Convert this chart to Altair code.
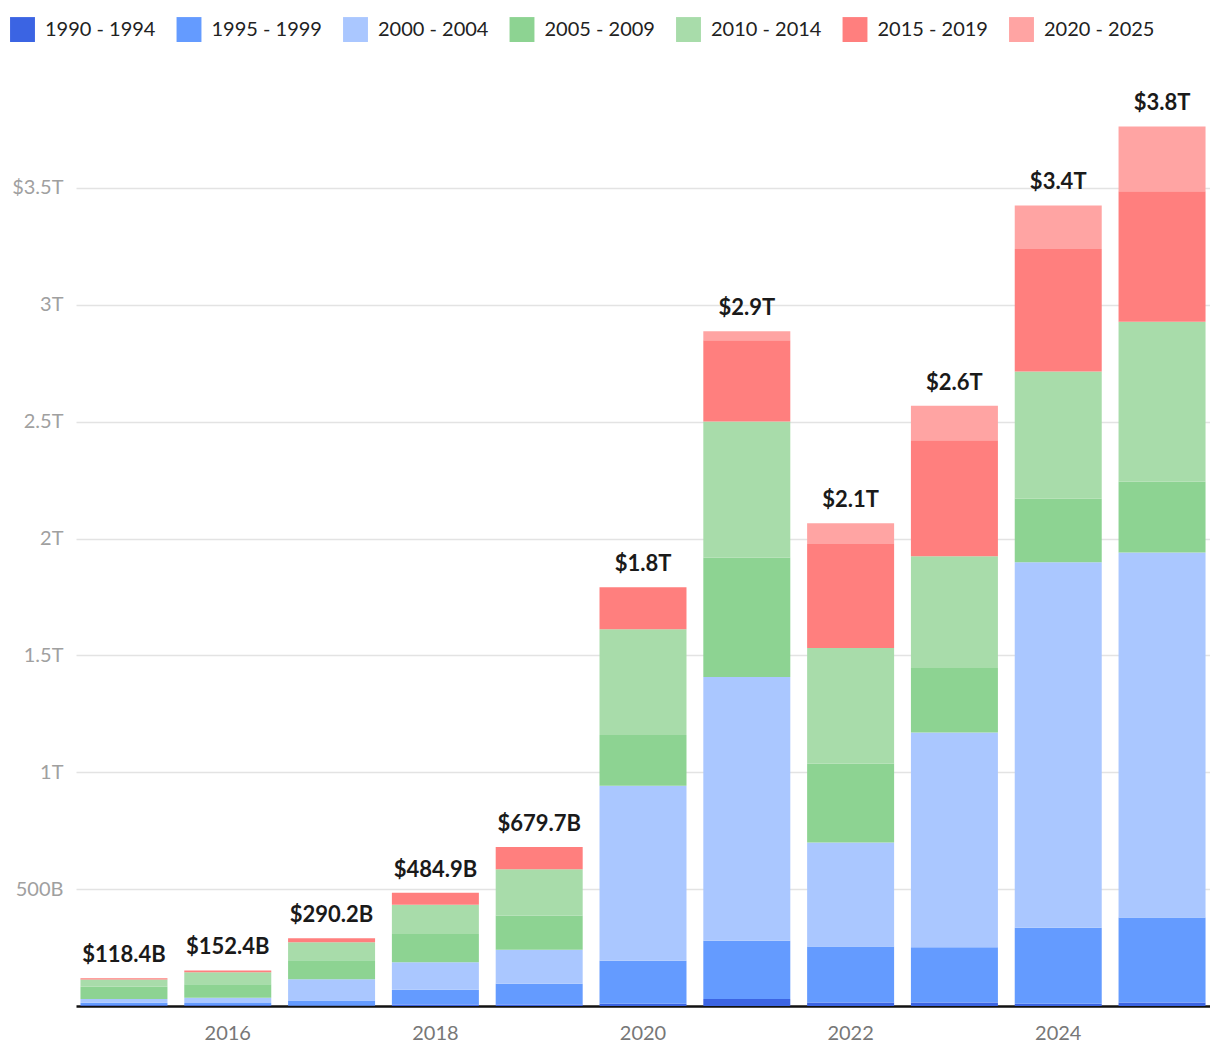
import altair as alt
import pandas as pd

years = [2015, 2016, 2017, 2018, 2019, 2020, 2021, 2022, 2023, 2024, 2025]
categories = ["1990 - 1994", "1995 - 1999", "2000 - 2004", "2005 - 2009",
              "2010 - 2014", "2015 - 2019", "2020 - 2025"]
colors = ["#3B64E3", "#649BFF", "#AAC7FF", "#8DD392", "#A8DCAA", "#FF7F7E", "#FFA4A3"]

# values in billions of dollars
s1990 = [3, 3, 2, 6, 6, 10, 30, 15, 15, 10, 15]
s1995 = [11, 10, 21, 64, 89, 184, 249, 240, 236, 325, 364]
s2000 = [16, 22, 91, 117, 146, 748, 1129, 444, 919, 1563, 1561]
s2005 = [52, 58, 82, 121, 146, 217, 511, 338, 276, 272, 304]
s2010 = [31, 51, 77, 125, 198, 453, 582, 495, 478, 544, 683]
s2015 = [5.4, 8.4, 17.2, 51.9, 94.7, 179, 347, 444, 496, 525, 559]
s2020 = [0, 0, 0, 0, 0, 0, 39, 89, 148, 186, 277]

series = [s1990, s1995, s2000, s2005, s2010, s2015, s2020]
rows = []
for ci, (cat, vals) in enumerate(zip(categories, series)):
    for y, v in zip(years, vals):
        rows.append({"year": str(y), "cohort": cat, "order": ci, "value": v})
df = pd.DataFrame(rows)

FONT = "Lato"

x = alt.X("year:O", title=None,
          scale=alt.Scale(paddingInner=0.162, paddingOuter=0.043),
          axis=alt.Axis(labelAngle=0, labelExpr="toNumber(datum.value) % 2 == 0 ? datum.value : ''",
                        ticks=False, domainColor="#111111", domainWidth=2.5,
                        labelColor="#777777", labelFontSize=20, labelFont=FONT,
                        labelPadding=17, grid=False))

bars = alt.Chart(df).mark_bar().encode(
    x=x,
    y=alt.Y("sum(value):Q", title=None,
            scale=alt.Scale(domain=[0, 4000], nice=False),
            axis=alt.Axis(values=[500, 1000, 1500, 2000, 2500, 3000, 3500],
                          labelExpr="datum.value == 3500 ? '$3.5T' : (datum.value >= 1000 ? format(datum.value/1000, '~g') + 'T' : datum.value + 'B')",
                          domain=False, ticks=False, labelColor="#a0a0a0",
                          labelFontSize=20, labelFont=FONT, labelPadding=13,
                          gridColor="#e3e3e3", gridWidth=1.5)),
    color=alt.Color("cohort:N", sort=categories,
                    scale=alt.Scale(domain=categories, range=colors),
                    legend=alt.Legend(title=None, orient="none", direction="horizontal",
                                      legendX=-66, legendY=-54,
                                      symbolType="square", symbolSize=620,
                                      symbolStrokeWidth=0, symbolOpacity=1,
                                      labelFontSize=20, labelFont=FONT,
                                      labelColor="#222222", labelOffset=10,
                                      columnPadding=20.5)),
    order=alt.Order("order:Q", sort="ascending"),
)

labels = alt.Chart(df).transform_aggregate(
    total="sum(value)", groupby=["year"]
).transform_calculate(
    label="datum.total >= 1000 ? '$' + format(datum.total/1000, '.1f') + 'T' : '$' + format(datum.total, '.1f') + 'B'"
).mark_text(baseline="bottom", dy=-11, fontSize=22, fontWeight="bold",
            font=FONT, color="#1a1a1a").encode(
    x=alt.X("year:O"),
    y=alt.Y("total:Q"),
    text="label:N",
)

chart = alt.layer(bars, labels).properties(
    width=1134, height=935,
    autosize=alt.AutoSizeParams(type="none"),
    padding={"left": 68, "top": 63, "right": 0, "bottom": 40},
).configure_view(stroke=None)

chart.save("out.html", embed_options={"renderer": "svg", "actions": False})
